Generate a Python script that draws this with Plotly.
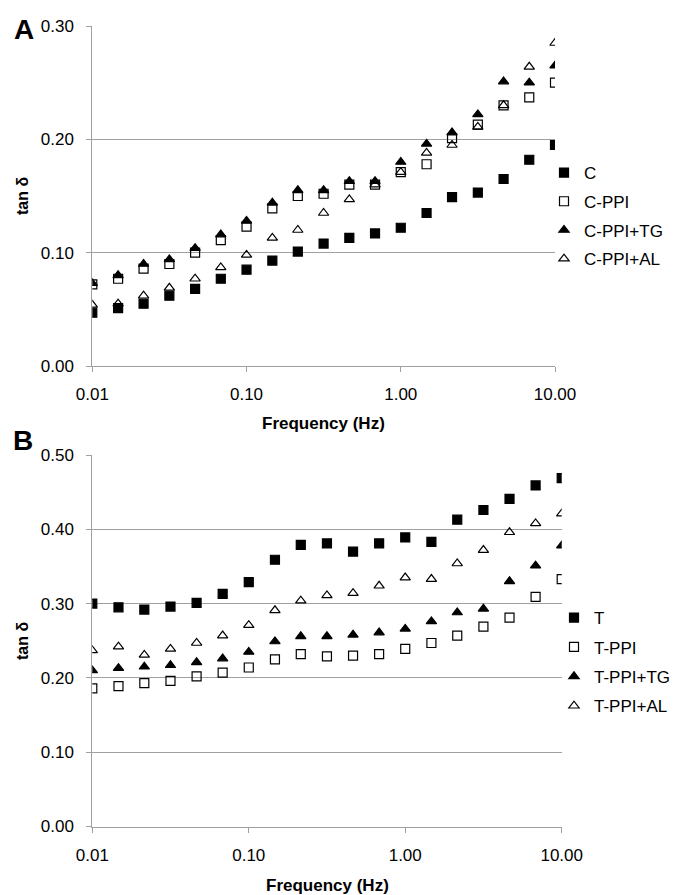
import plotly.graph_objects as go

# ---------------- data ----------------
freq = [0.01, 0.0147, 0.0215, 0.0316, 0.0464, 0.0681, 0.1, 0.147, 0.215, 0.316,
        0.464, 0.681, 1.0, 1.47, 2.15, 3.16, 4.64, 6.81, 10.0]

# Panel A
C_vals = [0.047, 0.051, 0.055, 0.062, 0.068, 0.077, 0.085, 0.093, 0.101, 0.108,
          0.113, 0.117, 0.122, 0.135, 0.149, 0.153, 0.165, 0.182, 0.195]
C_PPI = [0.072, 0.077, 0.086, 0.090, 0.100, 0.111, 0.123, 0.139, 0.150, 0.152,
         0.160, 0.160, 0.171, 0.178, 0.201, 0.213, 0.230, 0.237, 0.250]
C_PPI_TG = [0.073, 0.080, 0.090, 0.094, 0.104, 0.116, 0.128, 0.144, 0.155, 0.155,
            0.163, 0.163, 0.180, 0.196, 0.206, 0.222, 0.251, 0.250, 0.265]
C_PPI_AL = [0.054, 0.055, 0.062, 0.069, 0.077, 0.087, 0.098, 0.113, 0.120, 0.135,
            0.147, 0.160, 0.171, 0.188, 0.195, 0.211, 0.230, 0.264, 0.285]

# Panel B
T_vals = [0.300, 0.295, 0.292, 0.296, 0.301, 0.313, 0.329, 0.359, 0.379, 0.381,
          0.370, 0.381, 0.389, 0.383, 0.413, 0.426, 0.441, 0.459, 0.469]
T_PPI = [0.186, 0.189, 0.193, 0.196, 0.202, 0.207, 0.214, 0.225, 0.232, 0.229,
         0.230, 0.232, 0.239, 0.247, 0.257, 0.269, 0.281, 0.309, 0.333]
T_PPI_TG = [0.210, 0.213, 0.215, 0.217, 0.221, 0.226, 0.235, 0.249, 0.256, 0.256,
            0.258, 0.261, 0.266, 0.276, 0.288, 0.293, 0.330, 0.351, 0.378]
T_PPI_AL = [0.237, 0.242, 0.231, 0.239, 0.247, 0.257, 0.271, 0.291, 0.304, 0.311,
            0.314, 0.324, 0.335, 0.333, 0.354, 0.372, 0.396, 0.408, 0.421]

names_A = ["C", "C-PPI", "C-PPI+TG", "C-PPI+AL"]
names_B = ["T", "T-PPI", "T-PPI+TG", "T-PPI+AL"]

x_tickvals = [0.01, 0.1, 1, 10]
x_ticktext = ["0.01", "0.10", "1.00", "10.00"]
yA_ticks = [0.0, 0.1, 0.2, 0.3]
yB_ticks = [0.0, 0.1, 0.2, 0.3, 0.4, 0.5]

x_title = "<b>Frequency (Hz)</b>"
y_title = "<b>tan δ</b>"

# ---------------- styling ----------------
symbols = ["square", "square-open", "triangle-up", "triangle-up-open"]
sizes = [9, 9, 9, 9]
FONT = "Liberation Sans, Arial, sans-serif"
GRID = "#a0a0a0"

fig = go.Figure()

seriesA = [C_vals, C_PPI, C_PPI_TG, C_PPI_AL]
seriesB = [T_vals, T_PPI, T_PPI_TG, T_PPI_AL]

for i, (nm, vals) in enumerate(zip(names_A, seriesA)):
    fig.add_trace(go.Scatter(
        x=freq, y=vals, mode="markers", name=nm,
        marker=dict(symbol=symbols[i], size=sizes[i], color="black",
                    line=dict(color="black", width=1.2)),
        xaxis="x", yaxis="y", legend="legend", legendgroup="a%d" % i))

for i, (nm, vals) in enumerate(zip(names_B, seriesB)):
    fig.add_trace(go.Scatter(
        x=freq, y=vals, mode="markers", name=nm,
        marker=dict(symbol=symbols[i], size=sizes[i], color="black",
                    line=dict(color="black", width=1.2)),
        xaxis="x2", yaxis="y2", legend="legend2", legendgroup="b%d" % i))

W, H = 677, 895

def px_x(p):
    return p / W

def px_y(p):
    return (H - p) / H

xaxis_common = dict(
    type="log", range=[-2, 1], tickvals=x_tickvals, ticktext=x_ticktext,
    ticks="outside", ticklen=5, tickcolor=GRID, showline=True, linecolor=GRID,
    linewidth=1, showgrid=False, zeroline=False, automargin=False,
    ticklabelstandoff=8,
    tickfont=dict(family=FONT, size=17, color="black"),
)
yaxis_common = dict(
    dtick=0.1, tickformat=".2f", showgrid=True, gridcolor=GRID, gridwidth=1,
    zeroline=False, showline=True, linecolor=GRID, linewidth=1, automargin=False,
    ticks="outside", ticklen=5, tickcolor=GRID, ticklabelstandoff=9,
    tickfont=dict(family=FONT, size=17, color="black"),
)

def label(text, x, y, size, angle=0):
    return dict(text=text, x=px_x(x), y=px_y(y), xref="paper", yref="paper",
                xanchor="center", yanchor="middle", showarrow=False, textangle=angle,
                font=dict(family=FONT, size=size, color="black"))

fig.update_layout(
    width=W, height=H,
    margin=dict(l=0, r=0, t=0, b=0, autoexpand=False),
    paper_bgcolor="white", plot_bgcolor="white",
    font=dict(family=FONT, color="black"),
    xaxis=dict(domain=[px_x(92.3), px_x(555)], anchor="y", **xaxis_common),
    yaxis=dict(domain=[px_y(366), px_y(26)], anchor="x", range=[0, 0.30],
               tickvals=yA_ticks, **yaxis_common),
    xaxis2=dict(domain=[px_x(92.3), px_x(561.7)], anchor="y2", **xaxis_common),
    yaxis2=dict(domain=[px_y(826.5), px_y(455)], anchor="x2", range=[0, 0.50],
                tickvals=yB_ticks, **yaxis_common),
    legend=dict(x=px_x(544), y=px_y(155), xanchor="left", yanchor="top",
                font=dict(family=FONT, size=17, color="black"),
                bgcolor="rgba(0,0,0,0)", tracegroupgap=3.6, itemwidth=30),
    legend2=dict(x=px_x(554), y=px_y(600), xanchor="left", yanchor="top",
                 font=dict(family=FONT, size=17, color="black"),
                 bgcolor="rgba(0,0,0,0)", tracegroupgap=4.3, itemwidth=30),
    annotations=[
        label("<b>A</b>", 24, 30, 28),
        label("<b>B</b>", 23, 440, 28),
        label(x_title, 323.5, 423, 17),
        label(x_title, 327, 885, 17),
        label(y_title, 22, 196, 16, -90),
        label(y_title, 22, 641, 16, -90),
    ],
)

fig.write_html("out.html")
